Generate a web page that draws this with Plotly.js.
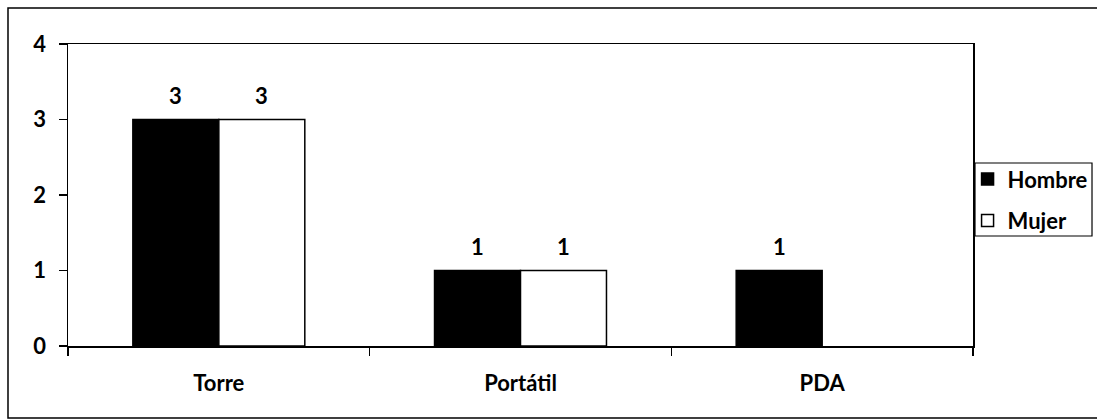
<!DOCTYPE html>
<html>
<head>
<meta charset="utf-8">
<script src="https://cdn.plot.ly/plotly-3.0.1.min.js"></script>
<style>html,body{margin:0;padding:0;background:#fff;}#chart{width:1097px;height:420px;}</style>
</head>
<body>
<div id="chart"></div>
<script>
// Equipos por sexo
const categorias = ['Torre', 'Portátil', 'PDA'];
const hombre = [3, 1, 1];
const mujer = [3, 1, null];
const etiquetasY = ['0', '1', '2', '3', '4'];

const fuente = {family: 'Lato, "Open Sans", sans-serif', size: 22, color: '#000', weight: 700};

const trazas = [
  {type: 'bar', name: 'Hombre', x: categorias, y: hombre, legendgroup: 'h',
   marker: {color: '#000', line: {color: '#000', width: 1.5}}, hoverinfo: 'skip'},
  {type: 'bar', name: 'Mujer', x: categorias, y: mujer, legendgroup: 'm',
   marker: {color: '#fff', line: {color: '#000', width: 1.5}}, hoverinfo: 'skip'}
];

// value labels above each bar, shifted to the bar's slot within its group
const anotaciones = [];
[[hombre, -43], [mujer, 43]].forEach(([serie, dx]) => {
  serie.forEach((v, i) => {
    if (v === null) return;
    anotaciones.push({x: categorias[i], y: v, xref: 'x', yref: 'y', text: String(v),
      showarrow: false, yanchor: 'bottom', xshift: dx, yshift: 9, font: fuente});
  });
});

const layout = {
  width: 1097, height: 420,
  margin: {l: 68, r: 124, t: 44, b: 74, autoexpand: false},
  paper_bgcolor: '#fff', plot_bgcolor: '#fff',
  barmode: 'group', bargap: 0.43, bargroupgap: 0,
  font: fuente,
  showlegend: true,
  legend: {x: 0.994, xanchor: 'left', y: 0.622, yanchor: 'top',
    borderwidth: 0, bgcolor: 'rgba(0,0,0,0)',
    tracegroupgap: 10, font: fuente},
  xaxis: {type: 'category', range: [-0.5, 2.5], tickson: 'boundaries',
    ticks: 'outside', ticklen: 8, tickwidth: 1.5, tickcolor: '#000',
    showline: true, linecolor: '#000', linewidth: 1.5, mirror: true,
    showgrid: false, zeroline: false, ticklabelstandoff: 17, tickfont: fuente},
  yaxis: {range: [0, 4], tickvals: [0, 1, 2, 3, 4], ticktext: etiquetasY,
    ticks: 'outside', ticklen: 8, tickwidth: 1.5, tickcolor: '#000',
    showline: true, linecolor: '#000', linewidth: 1.5, mirror: true,
    showgrid: false, zeroline: false, ticklabelstandoff: 8, tickfont: fuente},
  annotations: anotaciones,
  shapes: [
    // chart frame
    {type: 'rect', xref: 'paper', yref: 'paper', x0: -0.0663, x1: 1.15, y0: -0.2384, y1: 1.119,
     line: {color: '#000', width: 1.5}, fillcolor: 'rgba(0,0,0,0)', layer: 'below'},
    // legend frame
    {type: 'rect', xref: 'paper', yref: 'paper', x0: 1.0022, x1: 1.1315, y0: 0.3642, y1: 0.606,
     line: {color: '#000', width: 1.2}, fillcolor: '#fff', layer: 'below'}
  ]
};

Plotly.newPlot('chart', trazas, layout, {displayModeBar: false, staticPlot: true});
</script>
</body>
</html>
